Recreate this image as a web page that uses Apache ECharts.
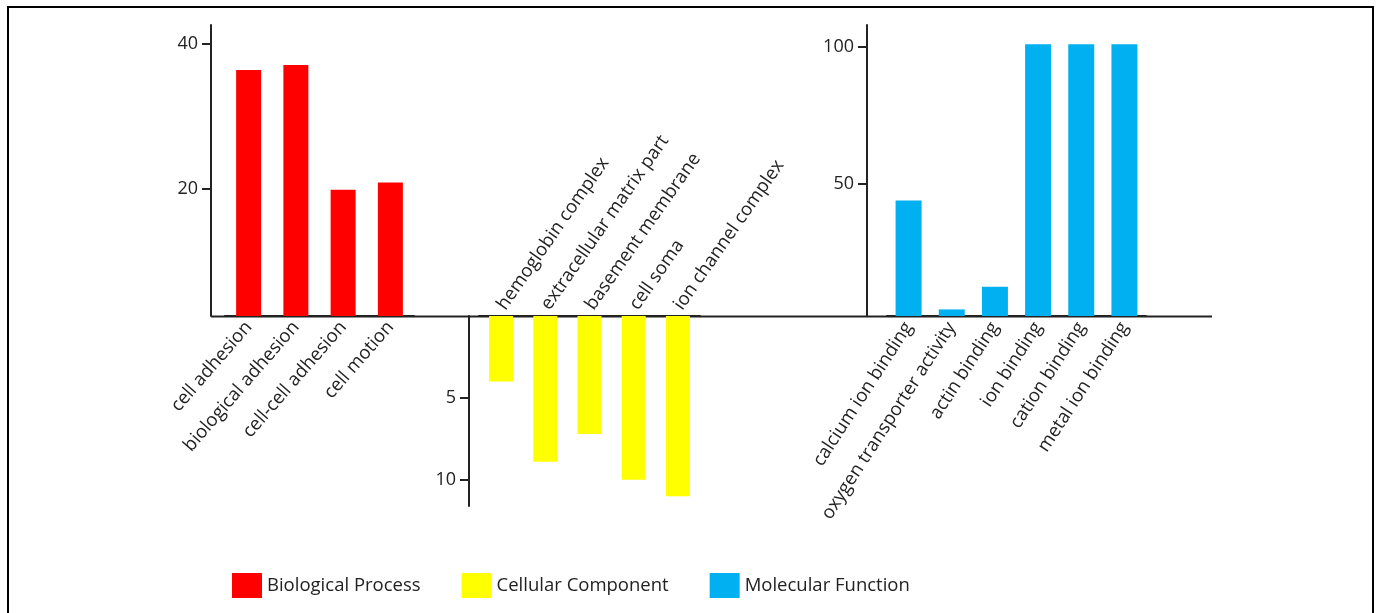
<!DOCTYPE html>
<html>
<head>
<meta charset="utf-8">
<script src="https://cdn.jsdelivr.net/npm/echarts@6/dist/echarts.min.js"></script>
<style>
  html, body { margin: 0; padding: 0; background: #fff; }
  #main { width: 1380px; height: 613px; }
  #frame { position: absolute; left: 7px; top: 6px; width: 1363px; height: 620px;
           border: 2px solid #000; border-bottom: none; pointer-events: none; }
</style>
</head>
<body>
<div id="main"></div>
<div id="frame"></div>
<script>
// GO terms
var bpTerms = ['cell adhesion', 'biological adhesion', 'cell-cell adhesion', 'cell motion'];
var bpValues = [36.4, 37.1, 19.9, 20.9];

var ccTerms = ['hemoglobin complex', 'extracellular matrix part', 'basement membrane', 'cell soma', 'ion channel complex'];
var ccValues = [4.0, 8.9, 7.2, 10.0, 11.0];

var mfTerms = ['calcium ion binding', 'oxygen transporter activity', 'actin binding', 'ion binding', 'cation binding', 'metal ion binding'];
var mfValues = [43.8, 3.9, 12.2, 101, 101, 101];

var bpTicks = [20, 40];
var ccTicks = [5, 10];
var mfTicks = [50, 100];

var names = ['Biological Process', 'Cellular Component', 'Molecular Function'];
var colors = ['#ff0000', '#ffff00', '#00b0f0'];

var font = 'Open Sans';
var ink = '#222';

var chart = echarts.init(document.getElementById('main'));

function catAxis(idx, data, pos, rot) {
  return {
    type: 'category',
    gridIndex: idx,
    position: pos,
    data: data,
    axisLine: { lineStyle: { color: ink, width: 2 } },
    axisTick: { show: false },
    axisLabel: {
      interval: 0,
      rotate: rot,
      margin: 8,
      color: ink,
      fontFamily: font,
      fontSize: 18.5
    }
  };
}

function valAxis(idx, min, max, ticks, offset, inverse) {
  return {
    type: 'value',
    gridIndex: idx,
    min: min,
    max: max,
    inverse: inverse,
    offset: offset,
    splitLine: { show: false },
    axisLine: { show: true, lineStyle: { color: ink, width: 2 } },
    axisTick: { show: true, length: 9, customValues: ticks, lineStyle: { color: ink, width: 2 } },
    axisLabel: { customValues: ticks, color: ink, fontFamily: font, fontSize: 18, margin: 13 }
  };
}

var option = {
  backgroundColor: '#fff',
  animation: false,
  grid: [
    { left: 225, top: 25, width: 189, height: 291 },
    { left: 479, top: 316, width: 221, height: 190 },
    { left: 887, top: 25, width: 259, height: 291 }
  ],
  xAxis: [
    catAxis(0, bpTerms, 'bottom', 49),
    catAxis(1, ccTerms, 'top', 55),
    catAxis(2, mfTerms, 'bottom', 57)
  ],
  yAxis: [
    valAxis(0, 2.5, 42.6, bpTicks, 14, false),
    valAxis(1, 0, 11.6, ccTicks, 10, true),
    valAxis(2, 1.5, 108, mfTicks, 20, false)
  ],
  legend: {
    left: 232,
    top: 573,
    padding: 0,
    itemWidth: 30,
    itemHeight: 25,
    itemGap: 41,
    icon: 'rect',
    data: names,
    textStyle: { color: ink, fontFamily: font, fontSize: 18.5 }
  },
  graphic: [{
    type: 'line',
    shape: { x1: 211, y1: 316.5, x2: 1212, y2: 316.5 },
    style: { stroke: ink, lineWidth: 2 }
  }],
  series: [
    { name: names[0], type: 'bar', xAxisIndex: 0, yAxisIndex: 0, data: bpValues,
      barWidth: 25, itemStyle: { color: colors[0] } },
    { name: names[1], type: 'bar', xAxisIndex: 1, yAxisIndex: 1, data: ccValues,
      barWidth: 24, itemStyle: { color: colors[1] } },
    { name: names[2], type: 'bar', xAxisIndex: 2, yAxisIndex: 2, data: mfValues,
      barWidth: 26, itemStyle: { color: colors[2] } }
  ]
};

chart.setOption(option);
</script>
</body>
</html>
